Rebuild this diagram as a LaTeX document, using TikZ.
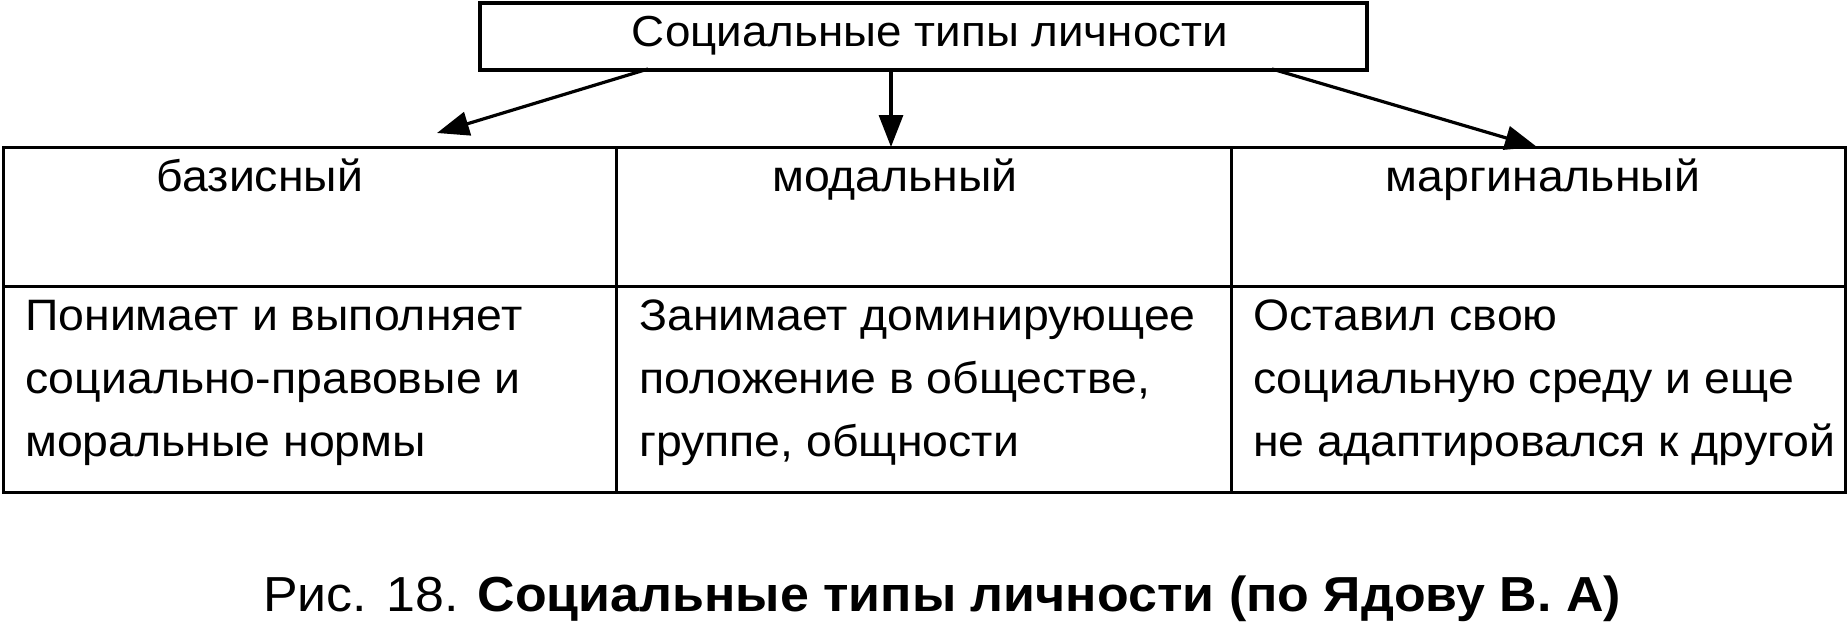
\documentclass[tikz,border=0pt]{standalone}
\usepackage{fontspec}
\setmainfont[FakeStretch=1.055]{Liberation Sans}
\usetikzlibrary{arrows.meta}
\begin{document}
\begin{tikzpicture}[x=1pt,y=-1pt,
  frame/.style={draw=black,line width=3.2pt,inner sep=0pt,outer sep=0pt},
  cell/.style={draw=black,line width=3pt,inner sep=0pt,outer sep=0pt},
  txt/.style={inner sep=0pt,font=\fontsize{44}{50}\selectfont},
  ttltxt/.style={inner sep=0pt,font=\fontsize{43.4}{50}\selectfont},
  captxt/.style={inner sep=0pt,font=\fontsize{49.2}{60}\selectfont},
  arr/.style={line width=3.2pt,-{Triangle[length=32pt,width=24pt]}}]
\useasboundingbox (0,0) rectangle (1848,629);
% top box
\node[frame,minimum width=887pt,minimum height=67pt] (top) at (923.5,36.5) {};
\node[ttltxt,anchor=base] (toptxt) at (930,46) {Социальные типы личности};
% header cells
\node[cell,minimum width=613pt,minimum height=139pt] (h1) at (309.5,216.5) {};
\node[cell,minimum width=615pt,minimum height=139pt] (h2) at (923.5,216.5) {};
\node[cell,minimum width=614pt,minimum height=139pt] (h3) at (1538,216.5) {};
% body cells
\node[cell,minimum width=613pt,minimum height=206pt] (b1) at (309.5,389) {};
\node[cell,minimum width=615pt,minimum height=206pt] (b2) at (923.5,389) {};
\node[cell,minimum width=614pt,minimum height=206pt] (b3) at (1538,389) {};
% header texts
\node[txt,anchor=base] (t1) at (260,191) {базисный};
\node[txt,anchor=base] (t2) at (895,191) {модальный};
\node[txt,anchor=base] (t3) at (1543,191) {маргинальный};
% body texts
\node[txt,anchor=base west] (l11) at (25,330) {Понимает и выполняет};
\node[txt,anchor=base west] (l12) at (25,393) {социально-правовые и};
\node[txt,anchor=base west] (l13) at (25,456) {моральные нормы};
\node[txt,anchor=base west] (l21) at (639,330) {Занимает доминирующее};
\node[txt,anchor=base west] (l22) at (639,393) {положение в обществе,};
\node[txt,anchor=base west] (l23) at (639,456) {группе, общности};
\node[txt,anchor=base west] (l31) at (1253,330) {Оставил свою};
\node[txt,anchor=base west] (l32) at (1253,393) {социальную среду и еще};
\node[txt,anchor=base west] (l33) at (1253,456) {не адаптировался к другой};
% caption
\node[captxt,anchor=base west] (caption) at (263,611) {Рис. 18. \textbf{Социальные типы личности (по Ядову В. А)}};
% arrows
\coordinate (s1) at (648,69);
\coordinate (e1) at (437,133);
\coordinate (s2) at (891,69);
\coordinate (e2) at (891,147);
\coordinate (s3) at (1272,69);
\coordinate (e3) at (1537,147);
\draw[arr] (s1) -- (e1);
\draw[arr] (s2) -- (e2);
\draw[arr] (s3) -- (e3);
\end{tikzpicture}
\end{document}
